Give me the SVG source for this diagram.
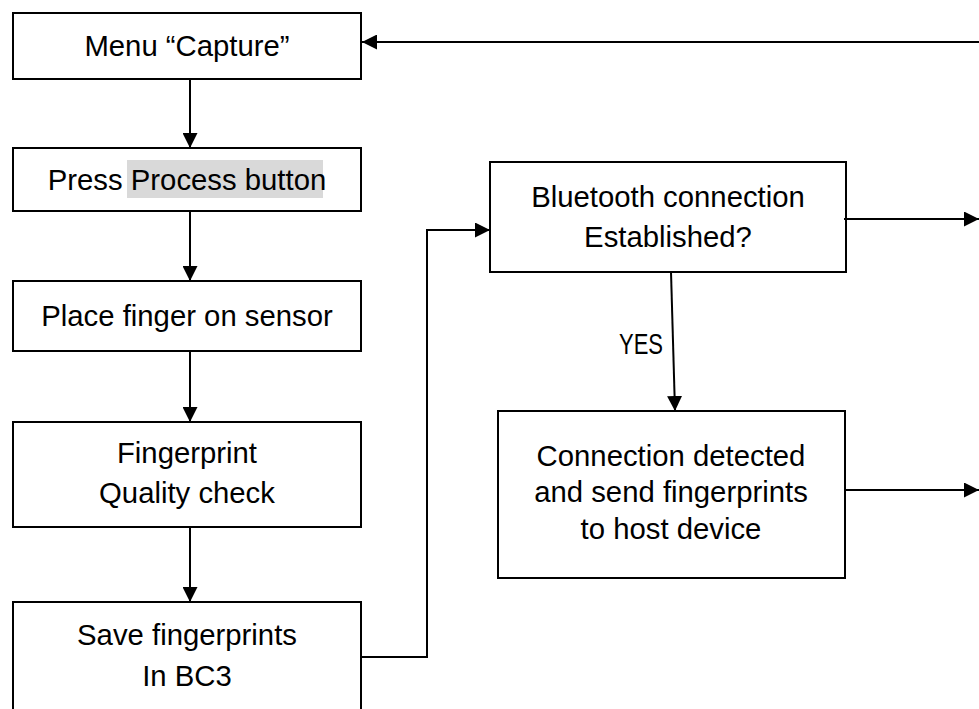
<svg xmlns="http://www.w3.org/2000/svg" width="979" height="709" viewBox="0 0 979 709">
<style>
.box{fill:#fff;stroke:#000;stroke-width:2}
.t{font-family:"Liberation Sans",Arial,sans-serif;font-size:29.3px;fill:#000;text-anchor:middle}
.c{fill:none;stroke:#000;stroke-width:2}
</style>
<defs>
<marker id="ah" markerUnits="userSpaceOnUse" markerWidth="15" markerHeight="15" refX="15" refY="7.5" orient="auto" viewBox="0 0 15 15">
<path d="M0,0 L15,7.5 L0,15 z" fill="#000"/>
</marker>
</defs>
<rect width="979" height="709" fill="#fff"/>
<g id="n1"><rect class="box" x="13" y="13" width="348" height="66"/><text class="t" x="187" y="56">Menu “Capture”</text></g>
<g id="n2"><rect class="box" x="13" y="148" width="348" height="63"/><rect x="127" y="160" width="196" height="38" fill="#d9d9d9"/><text class="t" x="187" y="190">Press Process button</text></g>
<g id="n3"><rect class="box" x="13" y="281" width="348" height="70"/><text class="t" x="187" y="326">Place finger on sensor</text></g>
<g id="n4"><rect class="box" x="13" y="422" width="348" height="105"/><text class="t" x="187" y="463">Fingerprint</text><text class="t" x="187" y="503">Quality check</text></g>
<g id="n5"><rect class="box" x="13" y="602" width="348" height="130"/><text class="t" x="187" y="645">Save fingerprints</text><text class="t" x="187" y="686">In BC3</text></g>
<g id="n6"><rect class="box" x="490" y="162" width="356" height="110"/><text class="t" x="668" y="207">Bluetooth connection</text><text class="t" x="668" y="247">Established?</text></g>
<g id="n7"><rect class="box" x="498" y="411" width="347" height="167"/><text class="t" x="671" y="466">Connection detected</text><text class="t" x="671" y="502">and send fingerprints</text><text class="t" x="671" y="539">to host device</text></g>
<g id="connectors">
<line class="c" x1="190" y1="79" x2="190" y2="148" marker-end="url(#ah)"/>
<line class="c" x1="190" y1="211" x2="190" y2="281" marker-end="url(#ah)"/>
<line class="c" x1="190" y1="351" x2="190" y2="422" marker-end="url(#ah)"/>
<line class="c" x1="190" y1="527" x2="190" y2="602" marker-end="url(#ah)"/>
<polyline class="c" points="361,657 427,657 427,230 490,230" marker-end="url(#ah)"/>
<line class="c" x1="979" y1="42" x2="362" y2="42" marker-end="url(#ah)"/>
<line class="c" x1="844" y1="219" x2="979" y2="219" marker-end="url(#ah)"/>
<line class="c" x1="671" y1="272" x2="675" y2="411" marker-end="url(#ah)"/>
<line class="c" x1="845" y1="490" x2="979" y2="490" marker-end="url(#ah)"/>
<text class="t" x="641" y="354" textLength="44" lengthAdjust="spacingAndGlyphs">YES</text>
</g>
</svg>
